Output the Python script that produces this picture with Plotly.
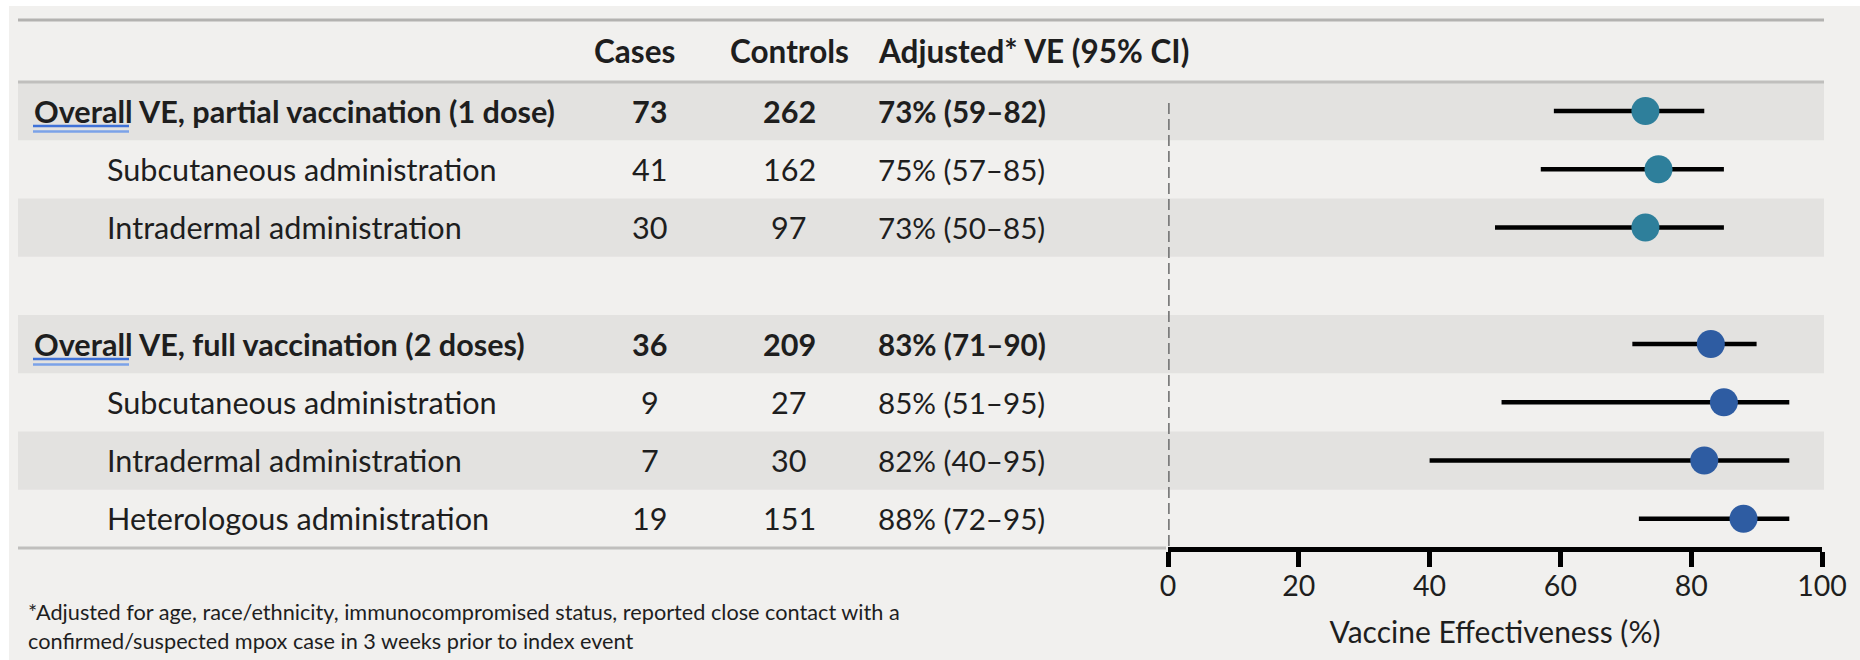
import plotly.graph_objects as go

# ---------------- data ----------------
header_cols = ["Cases", "Controls", "Adjusted* VE (95% CI)"]
row_labels = [
    "Overall VE, partial vaccination (1 dose)",
    "Subcutaneous administration",
    "Intradermal administration",
    "Overall VE, full vaccination (2 doses)",
    "Subcutaneous administration",
    "Intradermal administration",
    "Heterologous administration",
]
row_group = [0, 0, 0, 1, 1, 1, 1]          # 0 = partial (1 dose), 1 = full (2 doses)
row_is_overall = [True, False, False, True, False, False, False]
cases = [73, 41, 30, 36, 9, 7, 19]
controls = [262, 162, 97, 209, 27, 30, 151]
ve = [73, 75, 73, 83, 85, 82, 88]
ci_lo = [59, 57, 50, 71, 51, 40, 72]
ci_hi = [82, 85, 85, 90, 95, 95, 95]
group_colors = ["#2E7F9B", "#2E5CA2"]
x_ticks = [0, 20, 40, 60, 80, 100]
x_title = "Vaccine Effectiveness (%)"
footnote_lines = [
    "*Adjusted for age, race/ethnicity, immunocompromised status, reported close contact with a",
    "confirmed/suspected mpox case in 3 weeks prior to index event",
]

# ---------------- layout helpers ----------------
W, H = 1860, 660
ROW0, PITCH = 111.0, 58.25            # pixel centre of first row, row pitch
FONT = "Lato"
TXT = "#1E1E1E"
BG = "#F1F0EE"
SHADE = "#E3E2E0"


def px(x):
    return x / W


def py(y):  # pixel (from top) -> paper fraction
    return 1 - y / H


def yrow(pix):  # pixel -> row coordinate
    return (pix - ROW0) / PITCH


# row positions: a blank row separates the two groups
pos = [k + g for k, g in enumerate(row_group)]
idx_in_group = []
_cnt = {}
for g in row_group:
    idx_in_group.append(_cnt.get(g, 0))
    _cnt[g] = _cnt.get(g, 0) + 1

fig = go.Figure()

fig.add_trace(go.Scatter(
    x=ve, y=pos, mode="markers",
    marker=dict(size=28, color=[group_colors[g] for g in row_group], line=dict(width=0)),
    error_x=dict(type="data", symmetric=False,
                 array=[h - v for h, v in zip(ci_hi, ve)],
                 arrayminus=[v - l for v, l in zip(ve, ci_lo)],
                 color="black", thickness=4.5, width=0),
    hoverinfo="skip", showlegend=False,
))

shapes = []
# shaded rows
for p, ig in zip(pos, idx_in_group):
    if ig % 2 == 0:
        shapes.append(dict(type="rect", xref="paper", yref="y", x0=px(18), x1=px(1824),
                           y0=p - 0.5, y1=p + 0.5, fillcolor=SHADE, line=dict(width=0),
                           layer="below"))
# white strips on left / top
shapes.append(dict(type="rect", xref="paper", yref="paper", x0=0, x1=px(9), y0=0, y1=1,
                   fillcolor="white", line=dict(width=0), layer="below"))
shapes.append(dict(type="rect", xref="paper", yref="paper", x0=0, x1=1, y0=py(6), y1=1,
                   fillcolor="white", line=dict(width=0), layer="below"))
# rule lines
shapes.append(dict(type="line", xref="paper", yref="y", x0=px(18), x1=px(1824),
                   y0=yrow(20), y1=yrow(20), line=dict(color="#B3B2B0", width=3)))
shapes.append(dict(type="line", xref="paper", yref="y", x0=px(18), x1=px(1824),
                   y0=-0.5, y1=-0.5, line=dict(color="#C0BFBD", width=3)))
last = max(pos)
shapes.append(dict(type="line", xref="paper", yref="y", x0=px(18), x1=px(1166),
                   y0=last + 0.5, y1=last + 0.5, line=dict(color="#C0BFBD", width=3)))
# reference line at 0
shapes.append(dict(type="line", xref="x", yref="y", x0=0, x1=0, y0=yrow(103), y1=last + 0.5,
                   line=dict(color="#7C7C7C", width=3.5, dash="11px,5px")))
# spell-check style double underline under "Overall"
for p, ov in zip(pos, row_is_overall):
    if ov:
        shapes.append(dict(type="line", xref="paper", yref="y", x0=px(33), x1=px(129),
                           y0=p + 15 / PITCH, y1=p + 15 / PITCH,
                           line=dict(color="#3F72D8", width=2.5)))
        shapes.append(dict(type="line", xref="paper", yref="y", x0=px(33), x1=px(129),
                           y0=p + 20.5 / PITCH, y1=p + 20.5 / PITCH,
                           line=dict(color="#7BA2E8", width=2.5)))

ann = []
TS = 30.6
VS = 29.6
HS = 31.5
hy = yrow(51)
ann.append(dict(text="<b>%s</b>" % header_cols[0], x=px(634), xanchor="center", y=hy, size=HS))
ann.append(dict(text="<b>%s</b>" % header_cols[1], x=px(789), xanchor="center", y=hy, size=HS))
ann.append(dict(text="<b>%s</b>" % header_cols[2], x=px(876), xanchor="left", y=hy, size=HS))

for k, p in enumerate(pos):
    b0, b1 = ("<b>", "</b>") if row_is_overall[k] else ("", "")
    lx = 32 if row_is_overall[k] else 105
    ann.append(dict(text=b0 + row_labels[k] + b1, x=px(lx), xanchor="left", y=p, size=TS))
    ann.append(dict(text=b0 + str(cases[k]) + b1, x=px(650), xanchor="center", y=p, size=TS))
    ann.append(dict(text=b0 + str(controls[k]) + b1, x=px(789), xanchor="center", y=p, size=TS))
    ann.append(dict(text=b0 + "%d%% (%d–%d)" % (ve[k], ci_lo[k], ci_hi[k]) + b1,
                    x=px(876), xanchor="left", y=p, size=VS))

for a in ann:
    s = a.pop("size")
    a.update(xref="paper", yref="y", yanchor="middle", showarrow=False,
             font=dict(family=FONT, size=s, color=TXT))

for i, (line, yy) in enumerate(zip(footnote_lines, [612, 641])):
    ann.append(dict(text=line, xref="paper", yref="paper", x=px(26), y=py(yy),
                    xanchor="left", yanchor="middle", showarrow=False,
                    font=dict(family=FONT, size=21.7, color=TXT)))

fig.update_layout(
    width=W, height=H, autosize=False,
    margin=dict(l=0, r=0, t=0, b=0, pad=0),
    paper_bgcolor=BG, plot_bgcolor=BG,
    shapes=shapes, annotations=ann,
    font=dict(family=FONT, color=TXT),
    xaxis=dict(domain=[px(1168), px(1822)], range=[0, 100], anchor="free",
               position=py(549), showline=True, linecolor="black", linewidth=5,
               ticks="outside", ticklen=15, tickwidth=5, tickcolor="black",
               ticklabelstandoff=-5,
               tickvals=x_ticks, tickfont=dict(family=FONT, size=28.5, color=TXT),
               showgrid=False, zeroline=False, automargin=False,
               title=dict(text=x_title, font=dict(family=FONT, size=30, color=TXT),
                          standoff=20)),
    yaxis=dict(domain=[0, 1], range=[yrow(H), yrow(0)], visible=False,
               showgrid=False, zeroline=False, automargin=False),
)

fig.write_html("out.html", config={"displayModeBar": False},
               post_script="document.body.style.margin='0';document.body.style.overflow='hidden';")
